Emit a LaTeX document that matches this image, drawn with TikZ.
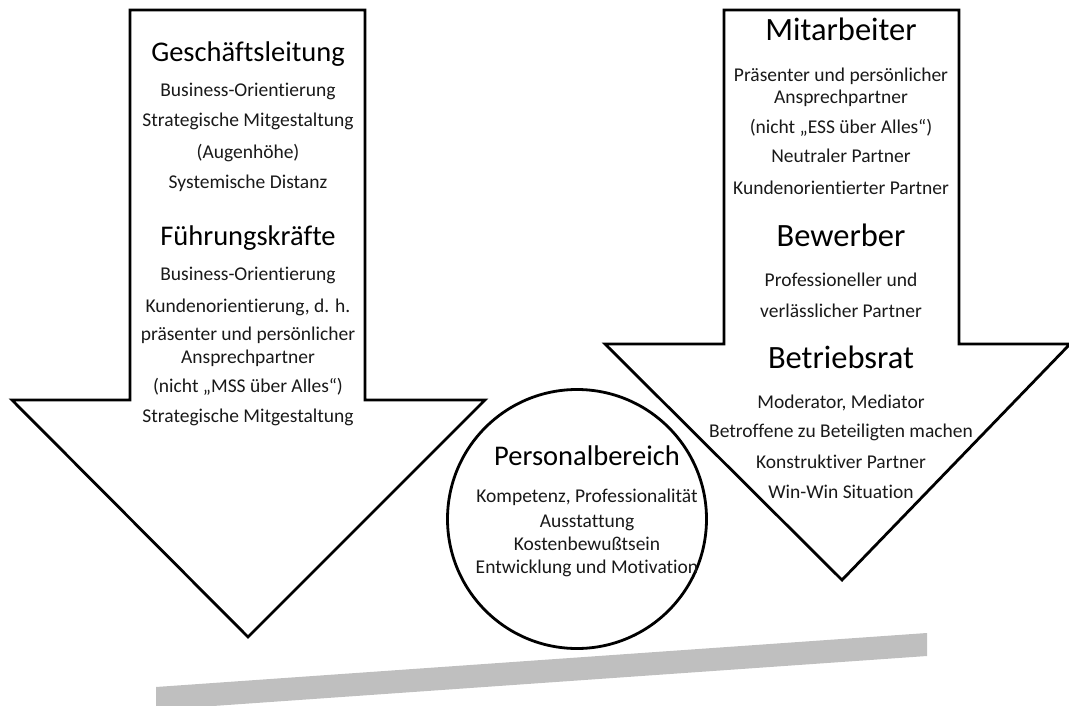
\documentclass[tikz,border=0pt]{standalone}
\usepackage{fontspec}
\setmainfont{Carlito}[Ligatures=NoCommon]
\usepackage{tikz}
\usetikzlibrary{positioning, calc}

\begin{document}
\begin{tikzpicture}[
    x=1pt, y=-1pt,
    pfeil/.style={draw, line width=2.8pt, line join=miter},
    kreis/.style={circle, draw, line width=2.8pt, minimum size=259pt, inner sep=0pt},
    balken/.style={fill=black!25},
    titel/.style={anchor=base, inner sep=0pt, font=\fontsize{28.5}{30}\selectfont},
    titelgross/.style={anchor=base, inner sep=0pt, font=\fontsize{32.5}{34}\selectfont},
    punkt/.style={anchor=base, inner sep=0pt, text=black!90, font=\fontsize{19.5}{22}\selectfont}
]
\useasboundingbox (0,0) rectangle (1069,706);

% Balken unten
\fill[balken] (156,687) -- (927,633) -- (927,656) -- (156,710) -- cycle;

% Pfeil links
\draw[pfeil] (130,10) -- (365,10) -- (365,400) -- (485,400) -- (248,637)
    -- (12,400) -- (130,400) -- cycle;

% Pfeil rechts
\draw[pfeil] (724,10) -- (959,10) -- (959,344) -- (1070,344) -- (842,580)
    -- (605,344) -- (724,344) -- cycle;

% Kreis Mitte
\node[kreis] (personal) at (577,519) {};

% Geschaeftsleitung
\node[titel] (gl) at (248,62) {Geschäftsleitung};
\node[punkt] (gl1) at (248,97) {Business-Orientierung};
\node[punkt] (gl2) at (248,127) {Strategische Mitgestaltung};
\node[punkt] (gl3) at (248,159) {(Augenhöhe)};
\node[punkt] (gl4) at (248,189) {Systemische Distanz};

% Fuehrungskraefte
\node[titel] (fk) at (248,245) {Führungskräfte};
\node[punkt] (fk1) at (248,280) {Business-Orientierung};
\node[punkt] (fk2) at (248,312) {Kundenorientierung, d. h.};
\node[punkt] (fk3) at (248,340) {präsenter und persönlicher};
\node[punkt] (fk4) at (248,363) {Ansprechpartner};
\node[punkt] (fk5) at (248,392) {(nicht „MSS über Alles“)};
\node[punkt] (fk6) at (248,422) {Strategische Mitgestaltung};

% Mitarbeiter
\node[titelgross] (ma) at (841,41) {Mitarbeiter};
\node[punkt] (ma1) at (841,82) {Präsenter und persönlicher};
\node[punkt] (ma2) at (841,104) {Ansprechpartner};
\node[punkt] (ma3) at (841,134) {(nicht „ESS über Alles“)};
\node[punkt] (ma4) at (841,163) {Neutraler Partner};
\node[punkt] (ma5) at (841,194) {Kundenorientierter Partner};

% Bewerber
\node[titelgross] (bw) at (841,246) {Bewerber};
\node[punkt] (bw1) at (841,286) {Professioneller und};
\node[punkt] (bw2) at (841,317) {verlässlicher Partner};

% Betriebsrat
\node[titelgross] (br) at (841,368) {Betriebsrat};
\node[punkt] (br1) at (841,408) {Moderator, Mediator};
\node[punkt] (br2) at (841,437) {Betroffene zu Beteiligten machen};
\node[punkt] (br3) at (841,468) {Konstruktiver Partner};
\node[punkt] (br4) at (841,498) {Win-Win Situation};

% Personalbereich
\node[titel] (pb) at (587,465) {Personalbereich};
\node[punkt] (pb1) at (587,502) {Kompetenz, Professionalität};
\node[punkt] (pb2) at (587,527) {Ausstattung};
\node[punkt] (pb3) at (587,550) {Kostenbewußtsein};
\node[punkt] (pb4) at (587,573) {Entwicklung und Motivation};

\end{tikzpicture}
\end{document}
